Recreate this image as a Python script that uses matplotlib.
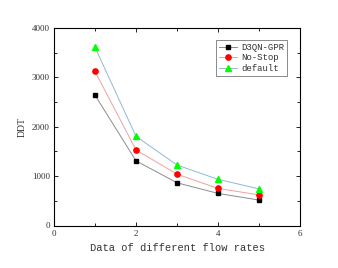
import matplotlib
matplotlib.use("Agg")
import matplotlib.pyplot as plt
from matplotlib.ticker import MultipleLocator

x = [1, 2, 3, 4, 5]
d3qn_gpr = [2640, 1310, 865, 650, 515]
no_stop = [3120, 1530, 1040, 750, 620]
default = [3610, 1805, 1225, 935, 742]
series_labels = ["D3QN-GPR", "No-Stop", "default"]

fig = plt.figure(figsize=(3.38, 2.68), dpi=100)
ax = fig.add_axes([54/338, 1-225.5/268, 246/338, 197.5/268])

ax.plot(x, d3qn_gpr, color="#8c8c8c", lw=0.7, marker="s", ms=3.3,
        mfc="black", mec="black", label=series_labels[0])
ax.plot(x, no_stop, color="#f0a0a0", lw=0.7, marker="o", ms=3.8,
        mfc="red", mec="red", label=series_labels[1])
ax.plot(x, default, color="#90b8d8", lw=0.7, marker="^", ms=4.2,
        mfc="#00ff00", mec="#00ff00", label=series_labels[2])

ax.set_xlim(0, 6)
ax.set_ylim(0, 4000)
ax.xaxis.set_major_locator(MultipleLocator(2))
ax.xaxis.set_minor_locator(MultipleLocator(1))
ax.yaxis.set_major_locator(MultipleLocator(1000))
ax.yaxis.set_minor_locator(MultipleLocator(500))
ax.tick_params(which="both", direction="in", top=True, right=True,
               labelsize=6.5, width=0.6, pad=3)
ax.tick_params(which="major", length=3)
ax.tick_params(which="minor", length=2)
for lab in ax.get_xticklabels() + ax.get_yticklabels():
    lab.set_family("Liberation Serif")
    lab.set_color("#333333")
for s in ax.spines.values():
    s.set_linewidth(0.8)

ax.set_xlabel("Data of different flow rates", family="Liberation Mono",
              fontsize=7.5, color="#333333", labelpad=4)
ax.set_ylabel("DDT", family="Liberation Serif", fontsize=7,
              color="#333333", labelpad=4)

leg = ax.legend(loc="upper right", prop={"family": "Liberation Mono", "size": 6.5},
                frameon=True, fancybox=False, edgecolor="#555555",
                handlelength=2.0, handletextpad=0.5, borderpad=0.3,
                labelspacing=0.15, bbox_to_anchor=(0.965, 0.96))
leg.get_frame().set_linewidth(0.6)
for t in leg.get_texts():
    t.set_color("#333333")

fig.savefig("out.png", dpi=100)
